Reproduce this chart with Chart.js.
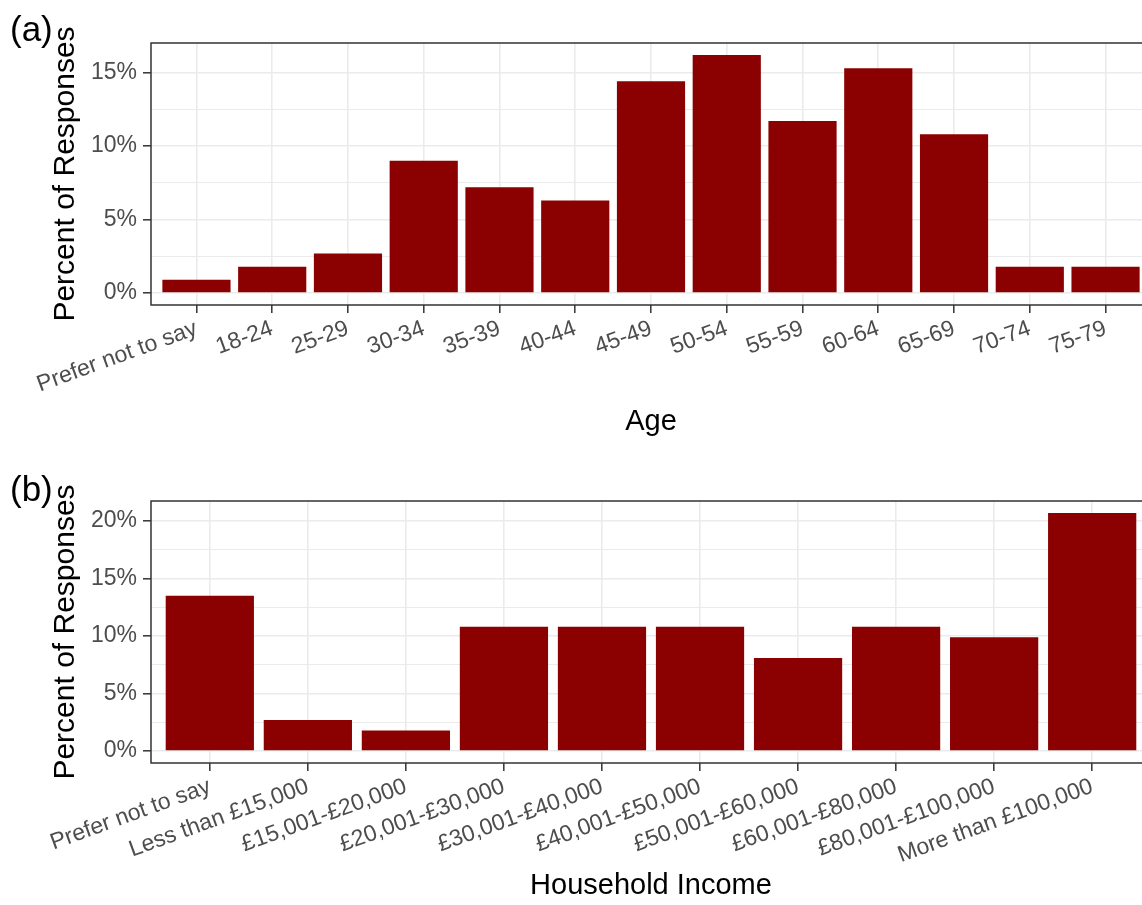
<!DOCTYPE html>
<html><head><meta charset="utf-8">
<script src="https://cdn.jsdelivr.net/npm/chart.js@4"></script>
<style>
html,body{margin:0;padding:0;overflow:hidden;background:#fff;width:1142px;height:905px;}
#wrap{position:relative;width:1160px;height:905px;}
canvas{display:block;position:absolute;left:0;}
</style></head><body>
<div id="wrap">
<canvas id="c1" width="1160" height="452" style="top:0"></canvas>
<canvas id="c2" width="1160" height="453" style="top:452px"></canvas>
</div>
<script>
const ageLabels = ['Prefer not to say','18-24','25-29','30-34','35-39','40-44','45-49','50-54','55-59','60-64','65-69','70-74','75-79'];
const agePercent = [0.9, 1.8, 2.7, 9.0, 7.2, 6.3, 14.4, 16.2, 11.7, 15.3, 10.8, 1.8, 1.8];
const incomeLabels = ['Prefer not to say','Less than £15,000','£15,001-£20,000','£20,001-£30,000','£30,001-£40,000','£40,001-£50,000','£50,001-£60,000','£60,001-£80,000','£80,001-£100,000','More than £100,000'];
const incomePercent = [13.5, 2.7, 1.8, 10.8, 10.8, 10.8, 8.1, 10.8, 9.9, 20.7];
const yTitle = 'Percent of Responses';

const FAM = '"Liberation Sans", Arial, sans-serif';

const framePlugin = {
  id: 'frame',
  afterDatasetsDraw(chart) {
    const {ctx, chartArea: a} = chart;
    ctx.save();
    ctx.strokeStyle = '#333333';
    ctx.lineWidth = 1.5;
    ctx.strokeRect(a.left, a.top, a.right - a.left, a.bottom - a.top);
    ctx.restore();
  }
};
const tagPlugin = {
  id: 'tag',
  afterDraw(chart, args, opts) {
    const ctx = chart.ctx;
    ctx.save();
    ctx.fillStyle = '#000';
    ctx.font = opts.size + 'px ' + FAM;
    ctx.textBaseline = 'middle';
    ctx.textAlign = 'left';
    ctx.fillText(opts.text, opts.x, opts.y);
    ctx.restore();
  }
};

function makeChart(id, labels, values, xTitle, tag, L) {
  const maxV = Math.max(...values);
  const yMin = -maxV * 0.05, yMax = maxV * 1.05;
  new Chart(document.getElementById(id), {
    type: 'bar',
    data: {
      datasets: [{
        data: values.map((v, i) => ({x: i, y: v})),
        backgroundColor: '#8B0000',
        borderWidth: 0,
        barPercentage: 0.9,
        categoryPercentage: 1.0
      }]
    },
    options: {
      responsive: false,
      animation: false,
      layout: {padding: {top: L.padTop, right: 9, left: 0, bottom: 0}},
      plugins: {
        legend: {display: false},
        tooltip: {enabled: false},
        tag: {text: tag, x: 10, y: L.tagY, size: 35}
      },
      scales: {
        x: {
          type: 'linear',
          offset: false,
          min: -0.6,
          max: labels.length - 1 + 0.6,
          afterBuildTicks: s => { s.ticks = labels.map((_, i) => ({value: i})); },
          afterFit: s => { s.height = L.xHeight; },
          ticks: {
            autoSkip: false, minRotation: 20, maxRotation: 20,
            color: '#4d4d4d', font: {size: 23, family: FAM}, padding: 2,
            callback: v => labels[Math.round(v)]
          },
          grid: {offset: false, color: '#ebebeb', lineWidth: 1.6, tickColor: '#333333', tickWidth: 1.5, tickLength: 8},
          border: {display: false},
          title: {display: true, text: xTitle, color: '#000', font: {size: 29, family: FAM}, padding: {top: 0, bottom: L.xTitlePad}}
        },
        y: {
          min: yMin, max: yMax,
          afterBuildTicks: s => { const t = []; for (let v = 0; v <= yMax; v += 2.5) t.push({value: v}); s.ticks = t; },
          afterFit: s => { s.width = 151; },
          ticks: {
            color: '#4d4d4d', font: {size: 23, family: FAM}, padding: 6,
            callback: v => (v % 5 === 0 ? v + '%' : '')
          },
          grid: {
            color: '#ebebeb',
            lineWidth: c => (c.tick && c.tick.value % 5 === 0 ? 1.6 : 1),
            tickColor: c => (c.tick && c.tick.value % 5 === 0 ? '#333333' : 'rgba(0,0,0,0)'),
            tickWidth: 1.5, tickLength: 8
          },
          border: {display: false},
          title: {display: true, text: yTitle, color: '#000', font: {size: 30, family: FAM}, padding: {top: 48, bottom: 0}}
        }
      }
    },
    plugins: [framePlugin, tagPlugin]
  });
}

makeChart('c1', ageLabels, agePercent, 'Age', '(a)', {padTop: 43, xHeight: 147, xTitlePad: 13, tagY: 31});
makeChart('c2', incomeLabels, incomePercent, 'Household Income', '(b)', {padTop: 49, xHeight: 142, xTitlePad: 2, tagY: 39});
</script>
</body></html>
